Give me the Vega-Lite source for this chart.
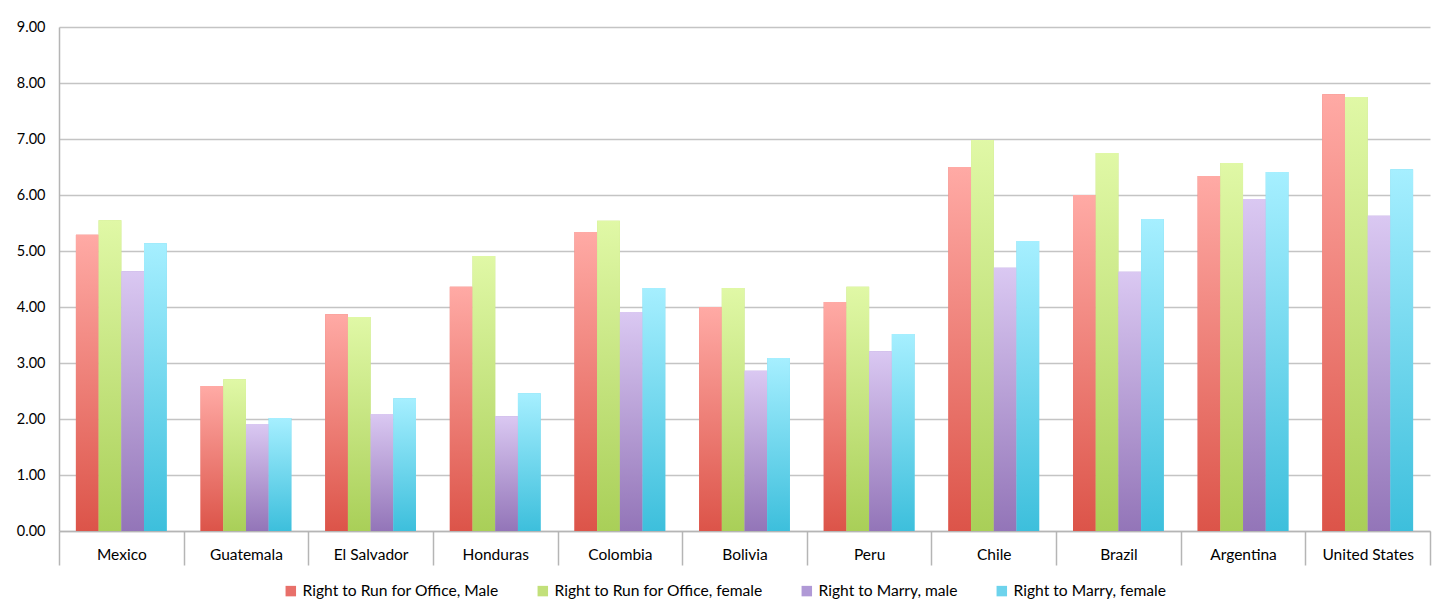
{
  "$schema": "https://vega.github.io/schema/vega-lite/v6.json",
  "width": 1371,
  "height": 504,
  "autosize": {"type": "none"},
  "padding": {"left": 59, "top": 27, "right": 9, "bottom": 82},
  "background": "white",
  "config": {
    "view": {"stroke": null},
    "font": "Lato",
    "axis": {"labelFont": "Lato", "labelColor": "#000000", "title": null}
  },
  "data": {
    "values": [
      {"country": "Mexico", "series": "Right to Run for Office, Male", "value": 5.29},
      {"country": "Mexico", "series": "Right to Run for Office, female", "value": 5.55},
      {"country": "Mexico", "series": "Right to Marry, male", "value": 4.64},
      {"country": "Mexico", "series": "Right to Marry, female", "value": 5.14},
      {"country": "Guatemala", "series": "Right to Run for Office, Male", "value": 2.59},
      {"country": "Guatemala", "series": "Right to Run for Office, female", "value": 2.71},
      {"country": "Guatemala", "series": "Right to Marry, male", "value": 1.91},
      {"country": "Guatemala", "series": "Right to Marry, female", "value": 2.02},
      {"country": "El Salvador", "series": "Right to Run for Office, Male", "value": 3.87},
      {"country": "El Salvador", "series": "Right to Run for Office, female", "value": 3.82},
      {"country": "El Salvador", "series": "Right to Marry, male", "value": 2.09},
      {"country": "El Salvador", "series": "Right to Marry, female", "value": 2.37},
      {"country": "Honduras", "series": "Right to Run for Office, Male", "value": 4.36},
      {"country": "Honduras", "series": "Right to Run for Office, female", "value": 4.91},
      {"country": "Honduras", "series": "Right to Marry, male", "value": 2.05},
      {"country": "Honduras", "series": "Right to Marry, female", "value": 2.46},
      {"country": "Colombia", "series": "Right to Run for Office, Male", "value": 5.34},
      {"country": "Colombia", "series": "Right to Run for Office, female", "value": 5.54},
      {"country": "Colombia", "series": "Right to Marry, male", "value": 3.91},
      {"country": "Colombia", "series": "Right to Marry, female", "value": 4.34},
      {"country": "Bolivia", "series": "Right to Run for Office, Male", "value": 4.0},
      {"country": "Bolivia", "series": "Right to Run for Office, female", "value": 4.34},
      {"country": "Bolivia", "series": "Right to Marry, male", "value": 2.86},
      {"country": "Bolivia", "series": "Right to Marry, female", "value": 3.09},
      {"country": "Peru", "series": "Right to Run for Office, Male", "value": 4.09},
      {"country": "Peru", "series": "Right to Run for Office, female", "value": 4.36},
      {"country": "Peru", "series": "Right to Marry, male", "value": 3.21},
      {"country": "Peru", "series": "Right to Marry, female", "value": 3.52},
      {"country": "Chile", "series": "Right to Run for Office, Male", "value": 6.5},
      {"country": "Chile", "series": "Right to Run for Office, female", "value": 6.98},
      {"country": "Chile", "series": "Right to Marry, male", "value": 4.7},
      {"country": "Chile", "series": "Right to Marry, female", "value": 5.18},
      {"country": "Brazil", "series": "Right to Run for Office, Male", "value": 6.0},
      {"country": "Brazil", "series": "Right to Run for Office, female", "value": 6.75},
      {"country": "Brazil", "series": "Right to Marry, male", "value": 4.63},
      {"country": "Brazil", "series": "Right to Marry, female", "value": 5.57},
      {"country": "Argentina", "series": "Right to Run for Office, Male", "value": 6.34},
      {"country": "Argentina", "series": "Right to Run for Office, female", "value": 6.57},
      {"country": "Argentina", "series": "Right to Marry, male", "value": 5.93},
      {"country": "Argentina", "series": "Right to Marry, female", "value": 6.41},
      {"country": "United States", "series": "Right to Run for Office, Male", "value": 7.8},
      {"country": "United States", "series": "Right to Run for Office, female", "value": 7.75},
      {"country": "United States", "series": "Right to Marry, male", "value": 5.63},
      {"country": "United States", "series": "Right to Marry, female", "value": 6.46}
    ]
  },
  "encoding": {
    "x": {
      "field": "country",
      "type": "nominal",
      "sort": null,
      "scale": {"paddingInner": 0, "paddingOuter": 0},
      "axis": {
        "labelAngle": 0,
        "labelFontSize": 15.5,
        "labelPadding": -18,
        "tickBand": "extent",
        "tickSize": 34,
        "tickColor": "#b5b5b5",
        "tickWidth": 1.5,
        "domainColor": "#b5b5b5",
        "domainWidth": 1.5
      }
    },
    "xOffset": {
      "field": "series",
      "type": "nominal",
      "sort": null,
      "scale": {"paddingInner": 0, "paddingOuter": 0.745}
    },
    "y": {
      "field": "value",
      "type": "quantitative",
      "scale": {"domain": [0, 9], "nice": false},
      "axis": {
        "values": [0, 1, 2, 3, 4, 5, 6, 7, 8, 9],
        "format": ".2f",
        "labelFontSize": 14.5,
        "labelPadding": 14,
        "ticks": false,
        "grid": true,
        "gridColor": "#c4c4c4",
        "gridWidth": 1.5,
        "domainColor": "#b5b5b5",
        "domainWidth": 1.5
      }
    }
  },
  "layer": [
    {
      "mark": {"type": "bar"},
      "encoding": {
        "color": {
          "field": "series",
          "type": "nominal",
          "sort": null,
          "scale": {
            "domain": ["Right to Run for Office, Male", "Right to Run for Office, female", "Right to Marry, male", "Right to Marry, female"],
            "range": ["#e8706a", "#c2e07a", "#b099d6", "#6dd3ec"]
          },
          "legend": {
            "orient": "none",
            "legendX": 224,
            "legendY": 556,
            "direction": "horizontal",
            "title": null,
            "symbolType": "square",
            "symbolSize": 110,
            "symbolStrokeWidth": 0,
            "labelFontSize": 15.6,
            "labelFont": "Lato",
            "labelColor": "#000000",
            "labelLimit": 500,
            "columnPadding": 36,
            "labelOffset": 4
          }
        }
      }
    },
    {
      "mark": {"type": "bar"},
      "encoding": {
        "fill": {
          "condition": [
            {
              "test": "datum.series === 'Right to Run for Office, Male'",
              "value": {"gradient": "linear", "x1": 0, "y1": 0, "x2": 0, "y2": 1, "stops": [{"offset": 0, "color": "#ffaaa5"}, {"offset": 1, "color": "#dc5449"}]}
            },
            {
              "test": "datum.series === 'Right to Run for Office, female'",
              "value": {"gradient": "linear", "x1": 0, "y1": 0, "x2": 0, "y2": 1, "stops": [{"offset": 0, "color": "#e0f8a6"}, {"offset": 1, "color": "#a9cf58"}]}
            },
            {
              "test": "datum.series === 'Right to Marry, male'",
              "value": {"gradient": "linear", "x1": 0, "y1": 0, "x2": 0, "y2": 1, "stops": [{"offset": 0, "color": "#dac8f2"}, {"offset": 1, "color": "#9375b8"}]}
            }
          ],
          "value": {"gradient": "linear", "x1": 0, "y1": 0, "x2": 0, "y2": 1, "stops": [{"offset": 0, "color": "#a6efff"}, {"offset": 1, "color": "#3dbfdc"}]}
        }
      }
    }
  ]
}
